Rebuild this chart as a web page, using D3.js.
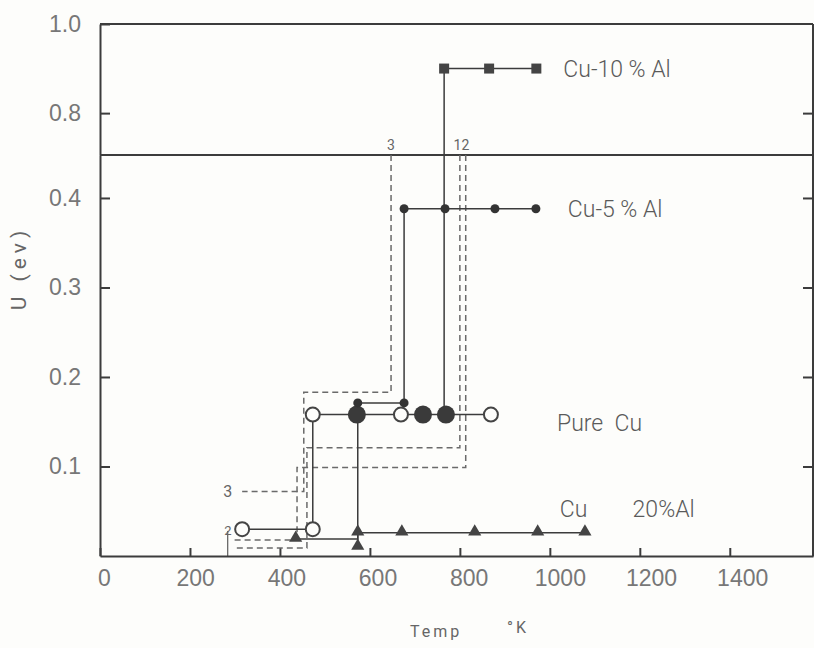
<!DOCTYPE html>
<svg width="814" height="648"></svg>
<script src="https://d3js.org/d3.v7.min.js"></script>
<style>
  body {
    margin: 0;
    background: #fdfdfb;
  }
  svg {
    font-family: Roboto, "DejaVu Sans", sans-serif;
  }
  .axis path, .axis line {
    stroke: #3c3c3c;
    stroke-width: 2px;
  }
  .axis text {
    fill: #777;
    font-size: 23px;
    font-weight: 300;
  }
  .step {
    fill: none;
    stroke: #3c3c3c;
    stroke-width: 1.5px;
  }
  .dashed {
    fill: none;
    stroke: #6a6a6a;
    stroke-width: 1.5px;
    stroke-dasharray: 6,4;
  }
  .label {
    fill: #5a5a5a;
    font-size: 23px;
    font-weight: 300;
  }
  .small {
    fill: #666;
    font-size: 14px;
  }
</style>
<script>
// U (eV) against temperature (K), broken y axis above ~0.45
var xTicks = [0, 200, 400, 600, 800, 1000, 1200, 1400];
var yTicksLow = [0.1, 0.2, 0.3, 0.4];
var yTicksHigh = [0.8, 1.0];

// Cu-10% Al
var cu10Line = [[765, 0.158], [765, 0.9], [970, 0.9]];
var cu10Points = [[765, 0.9], [865, 0.9], [970, 0.9]];

// Cu-5% Al
var cu5Line = [[573, 0.010], [573, 0.171], [676, 0.171], [676, 0.388], [969, 0.388]];
var cu5Points = [[573, 0.171], [676, 0.171], [676, 0.388], [767, 0.388], [878, 0.388], [969, 0.388]];

// Pure Cu
var pureLine = [[316, 0.030], [473, 0.030], [473, 0.158], [869, 0.158]];
var pureOpen = [[316, 0.030], [473, 0.030], [473, 0.158], [669, 0.158], [869, 0.158]];
var pureFilled = [[571, 0.158], [718, 0.158], [769, 0.158]];

// Cu 20% Al
var al20Line = [[435, 0.019], [573, 0.019], [573, 0.026], [1078, 0.026]];
var al20Points = [[435, 0.019], [573, 0.026], [573, 0.010], [671, 0.026], [833, 0.026], [973, 0.026], [1078, 0.026]];

// dashed curves 1, 2, 3
var dashed1 = [[800, 0.448], [800, 0.121], [460, 0.121], [460, 0.009], [300, 0.009]];
var dashed2 = [[813, 0.448], [813, 0.099], [438, 0.099], [438, 0.018], [296, 0.018]];
var dashed3 = [[647, 0.448], [647, 0.183], [453, 0.183], [453, 0.072], [316, 0.072]];
var marker1 = [[284, 0.028], [284, 0]];

var svg = d3.select("svg");

var breakU = 0.448;

var x = d3.scaleLinear().domain([0, 1585]).range([100, 813]);
var yLow = d3.scaleLinear().domain([0, breakU]).range([556, 155]);
var yHigh = d3.scaleLinear().domain([0.706, 1.0]).range([155, 24]);

var y = function(u) {
  return u > breakU ? yHigh(u) : yLow(u);
};

var line = d3.line()
    .x(function(d) { return x(d[0]); })
    .y(function(d) { return y(d[1]); });

// frame
svg.append("line")
    .attr("x1", x(0)).attr("x2", 813)
    .attr("y1", yHigh(1)).attr("y2", yHigh(1))
    .attr("stroke", "#3c3c3c").attr("stroke-width", 2);
svg.append("line")
    .attr("x1", 813).attr("x2", 813)
    .attr("y1", yHigh(1)).attr("y2", yLow(0))
    .attr("stroke", "#3c3c3c").attr("stroke-width", 2);
svg.append("line")
    .attr("x1", x(0)).attr("x2", 814)
    .attr("y1", yLow(breakU)).attr("y2", yLow(breakU))
    .attr("stroke", "#3c3c3c").attr("stroke-width", 2);

// axes
var shiftLabel = function(d) { return 4 + d * 0.006; };

svg.append("g")
    .attr("class", "axis")
    .attr("transform", "translate(0," + yLow(0) + ")")
    .call(d3.axisBottom(x).tickValues(xTicks).tickFormat(d3.format("d")).tickSizeInner(-8).tickSizeOuter(0).tickPadding(14))
    .selectAll("text")
    .attr("dx", shiftLabel);

svg.append("g")
    .attr("class", "axis")
    .attr("transform", "translate(" + x(0) + ",0)")
    .call(d3.axisLeft(yLow).tickValues(yTicksLow).tickFormat(d3.format(".1f")).tickSizeInner(-10).tickSizeOuter(0).tickPadding(19));

svg.append("g")
    .attr("class", "axis")
    .attr("transform", "translate(" + x(0) + ",0)")
    .call(d3.axisLeft(yHigh).tickValues(yTicksHigh).tickFormat(d3.format(".1f")).tickSizeInner(-10).tickSizeOuter(0).tickPadding(19));

svg.append("g")
    .attr("class", "axis")
    .attr("transform", "translate(813,0)")
    .call(d3.axisLeft(yLow).tickValues(yTicksLow).tickFormat("").tickSizeInner(10).tickSizeOuter(0));

svg.append("g")
    .attr("class", "axis")
    .attr("transform", "translate(813,0)")
    .call(d3.axisLeft(yHigh).tickValues([0.8]).tickFormat("").tickSizeInner(10).tickSizeOuter(0));

// dashed curves
[dashed1, dashed2, dashed3].forEach(function(c) {
  svg.append("path").attr("class", "dashed").attr("d", line(c));
});
svg.append("path").attr("class", "step").style("stroke-width", "1px").attr("d", line(marker1));

// solid step lines
[cu10Line, cu5Line, pureLine, al20Line].forEach(function(c) {
  svg.append("path").attr("class", "step").attr("d", line(c));
});

// markers
svg.selectAll(".sq").data(cu10Points).enter().append("rect")
    .attr("x", function(d) { return x(d[0]) - 5; })
    .attr("y", function(d) { return y(d[1]) - 5; })
    .attr("width", 10).attr("height", 10)
    .attr("fill", "#444");

svg.selectAll(".big").data(pureFilled).enter().append("circle")
    .attr("cx", function(d) { return x(d[0]); })
    .attr("cy", function(d) { return y(d[1]); })
    .attr("r", 9)
    .attr("fill", "#3a3a3a");

svg.selectAll(".dot").data(cu5Points).enter().append("circle")
    .attr("cx", function(d) { return x(d[0]); })
    .attr("cy", function(d) { return y(d[1]); })
    .attr("r", 4.5)
    .attr("fill", "#333");

svg.selectAll(".open").data(pureOpen).enter().append("circle")
    .attr("cx", function(d) { return x(d[0]); })
    .attr("cy", function(d) { return y(d[1]); })
    .attr("r", 7)
    .attr("fill", "#fdfdfb")
    .attr("stroke", "#444")
    .attr("stroke-width", 2);

svg.selectAll(".tri").data(al20Points).enter().append("path")
    .attr("d", d3.symbol(d3.symbolTriangle).size(75))
    .attr("transform", function(d) { return "translate(" + x(d[0]) + "," + (y(d[1]) - 1) + ")"; })
    .attr("fill", "#444");

// series labels
var label = function(t, u, s) {
  svg.append("text")
      .attr("class", "label")
      .attr("x", x(t))
      .attr("y", y(u))
      .attr("dy", "0.35em")
      .style("white-space", "pre")
      .text(s);
};
label(1030, 0.9, "Cu-10 % Al");
label(1040, 0.388, "Cu-5 % Al");
label(1016, 0.149, "Pure  Cu");
label(1022, 0.053, "Cu");
label(1184, 0.053, "20%Al");

// curve numbers
svg.append("text").attr("class", "small").attr("x", x(638)).attr("y", 150).text("3");
svg.append("text").attr("class", "small").attr("x", x(786)).attr("y", 150).text("12");
svg.append("text").attr("class", "small").attr("x", x(274)).attr("y", y(0.066)).style("font-size", "16px").text("3");
svg.append("text").attr("class", "small").attr("x", x(276)).attr("y", y(0.024)).style("font-size", "13px").text("2");

// axis titles
svg.append("text")
    .attr("x", 410).attr("y", 637)
    .attr("fill", "#666")
    .style("font-size", "16px")
    .style("letter-spacing", "3px")
    .text("Temp");
svg.append("text")
    .attr("x", 507).attr("y", 633)
    .attr("fill", "#666")
    .style("font-size", "16px")
    .style("letter-spacing", "3px")
    .text("°K");

svg.append("text")
    .attr("transform", "translate(26,268) rotate(-90)")
    .attr("text-anchor", "middle")
    .attr("fill", "#666")
    .style("font-size", "21px")
    .style("letter-spacing", "5px")
    .style("white-space", "pre")
    .text("U (ev)");
</script>
